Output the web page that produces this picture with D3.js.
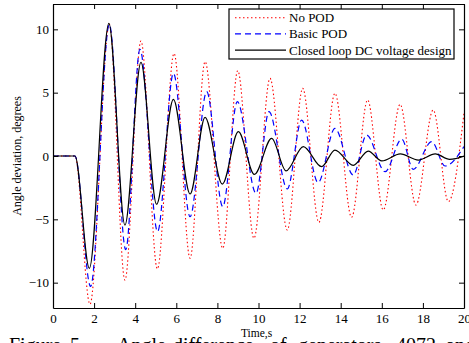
<!DOCTYPE html>
<html>
<head>
<meta charset="utf-8">
<script src="https://cdn.jsdelivr.net/npm/d3@7"></script>
<style>
  html, body { margin: 0; padding: 0; background: #fff; overflow: hidden; }
  svg { display: block; font-family: "Liberation Serif", "Times New Roman", serif; }
</style>
</head>
<body>
<svg id="chart" width="469" height="343"></svg>
<script>
// ---- data (extrema of each trace) ----
const seriesNames = ["No POD", "Basic POD", "Closed loop DC voltage design"];

const tNoPod = [0, 1.07, 1.8, 2.74, 3.5, 4.28, 5.08, 5.89, 6.67, 7.4, 8.26, 8.99, 9.78, 10.56, 11.4, 12.15, 12.94, 13.72, 14.53, 15.31, 16.07, 16.89, 17.66, 18.5, 19.24, 20];
const vNoPod = [0, 0, -11.7, 10.4, -9.8, 9.08, -8.92, 8.1, -8.08, 7.45, -7.29, 6.74, -6.5, 6.13, -5.84, 5.34, -5.24, 4.95, -4.84, 4.42, -4.26, 4.08, -3.87, 3.63, -3.6, 3.4];

const tBasic = [0, 1.07, 1.83, 2.74, 3.54, 4.23, 5.09, 5.86, 6.67, 7.48, 8.26, 8.97, 9.88, 10.51, 11.4, 12.1, 12.9, 13.72, 14.61, 15.26, 16.16, 16.97, 17.53, 18.43, 19.08, 20];
const vBasic = [0, 0, -10.3, 10.4, -7.4, 8.42, -5.97, 6.53, -4.79, 5.08, -4.0, 4.29, -2.95, 3.5, -2.6, 2.84, -2.1, 2.18, -1.5, 1.66, -1.24, 1.34, -1.05, 1.13, -0.79, 0.75];

const tClosed = [0, 1.07, 1.77, 2.72, 3.5, 4.28, 5.04, 5.86, 6.67, 7.4, 8.24, 9.02, 9.8, 10.64, 11.34, 12.18, 13.07, 13.72, 14.61, 15.34, 16.0, 16.9, 17.78, 18.6, 19.3, 20];
const vClosed = [0, 0, -8.87, 10.47, -5.45, 7.39, -3.81, 4.47, -3.0, 3.05, -2.22, 1.92, -1.45, 1.39, -1.18, 0.74, -0.84, 0.47, -0.74, 0.39, -0.39, 0.16, -0.32, 0.16, -0.26, 0.0];

const xTicks = [0, 2, 4, 6, 8, 10, 12, 14, 16, 18, 20];
const yTicks = [-10, -5, 0, 5, 10];
const xDomain = [0, 20];
const yDomain = [-12, 12];

const xLabel = "Time,s";
const yLabel = "Angle deviation, degrees";
const captionWords = ["Figure", "5", "\u2013", "Angle", "difference", "of", "generators", "4072", "and"];

// ---- layout ----
const L = 53, R = 464, T = 4, B = 308;
const svg = d3.select("#chart");
const x = d3.scaleLinear().domain(xDomain).range([L, R]);
const y = d3.scaleLinear().domain(yDomain).range([B, T]);

const series = [
  { name: seriesNames[0], t: tNoPod, v: vNoPod, color: "#ff0000", dash: "1.5,2.5", width: 1.1 },
  { name: seriesNames[1], t: tBasic, v: vBasic, color: "#0000ff", dash: "6,4", width: 1.2 },
  { name: seriesNames[2], t: tClosed, v: vClosed, color: "#000000", dash: null, width: 1.2 }
];

const line = d3.line()
  .x(d => x(d[0]))
  .y(d => y(d[1]))
  .curve(d3.curveMonotoneX);

svg.append("clipPath").attr("id", "plotclip")
  .append("rect").attr("x", L).attr("y", T).attr("width", R - L).attr("height", B - T);

const plot = svg.append("g").attr("clip-path", "url(#plotclip)");
series.forEach(s => {
  plot.append("path")
    .datum(s.t.map((t, i) => [t, s.v[i]]))
    .attr("d", line)
    .attr("fill", "none")
    .attr("stroke", s.color)
    .attr("stroke-width", s.width)
    .attr("stroke-dasharray", s.dash);
});

// ---- axes ----
const fmt = d3.format("d");
const axB = svg.append("g").attr("transform", `translate(0,${B})`)
  .call(d3.axisBottom(x).tickValues(xTicks).tickFormat(fmt).tickSizeInner(-5).tickSizeOuter(0).tickPadding(6));
const axT = svg.append("g").attr("transform", `translate(0,${T})`)
  .call(d3.axisTop(x).tickValues(xTicks).tickFormat("").tickSizeInner(-5).tickSizeOuter(0));
const axLft = svg.append("g").attr("transform", `translate(${L},0)`)
  .call(d3.axisLeft(y).tickValues(yTicks).tickFormat(fmt).tickSizeInner(-5).tickSizeOuter(0).tickPadding(4));
const axRt = svg.append("g").attr("transform", `translate(${R},0)`)
  .call(d3.axisRight(y).tickValues(yTicks).tickFormat("").tickSizeInner(-5).tickSizeOuter(0));

[axB, axT, axLft, axRt].forEach(a => {
  a.selectAll(".domain").attr("stroke", "#000").attr("stroke-width", 1.2);
  a.selectAll(".tick line").attr("stroke", "#000").attr("stroke-width", 1);
  a.selectAll("text").attr("font-family", "Liberation Serif, Times New Roman, serif")
    .attr("font-size", 13).attr("fill", "#000");
});

// ---- labels ----
svg.append("text")
  .attr("x", (L + R) / 2 - 2).attr("y", 337)
  .attr("text-anchor", "middle").attr("font-size", 11.5)
  .text(xLabel);

svg.append("text")
  .attr("transform", `translate(21,156) rotate(-90)`)
  .attr("text-anchor", "middle").attr("font-size", 12)
  .text(yLabel);

// ---- legend ----
const lg = svg.append("g");
lg.append("rect").attr("x", 229).attr("y", 9).attr("width", 225).attr("height", 50)
  .attr("fill", "#fff").attr("stroke", "#000").attr("stroke-width", 1.2);
series.forEach((s, i) => {
  const cy = 17.7 + i * 16.2;
  lg.append("line").attr("x1", 235).attr("x2", 286).attr("y1", cy).attr("y2", cy)
    .attr("stroke", s.color).attr("stroke-width", s.width).attr("stroke-dasharray", s.dash);
  lg.append("text").attr("x", 289).attr("y", cy + 4.5).attr("font-size", 13).text(s.name);
});

// ---- caption (clipped at bottom of picture) ----
const capX = [9, 70, 89, 117, 173, 270, 298, 396, 446];
svg.append("g").selectAll("text").data(captionWords).join("text")
  .attr("x", (d, i) => capX[i]).attr("y", 352)
  .attr("font-size", 20).text(d => d);
</script>
</body>
</html>
